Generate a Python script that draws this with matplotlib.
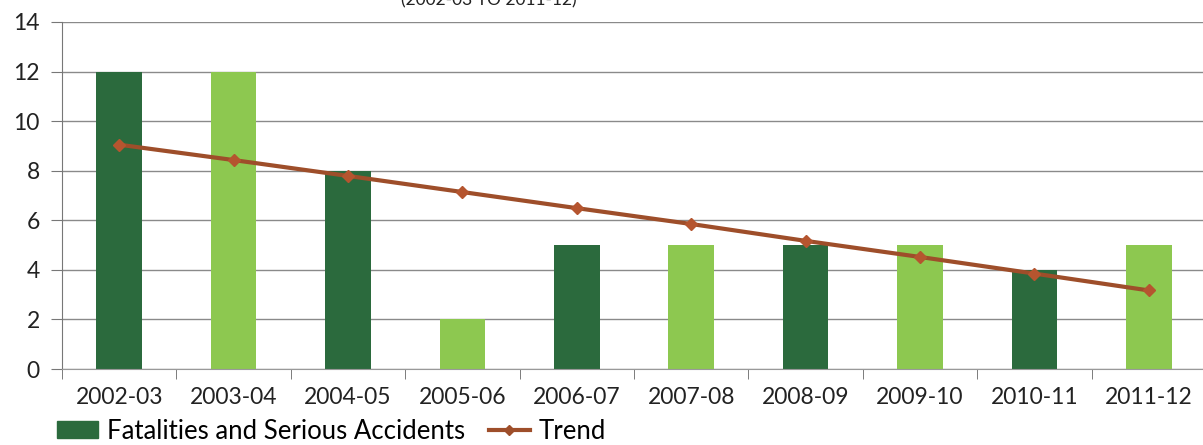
import matplotlib.pyplot as plt
from matplotlib.lines import Line2D
from matplotlib.patches import Patch

# yearly counts and the linear trend drawn over them
years = ['2002-03', '2003-04', '2004-05', '2005-06', '2006-07',
         '2007-08', '2008-09', '2009-10', '2010-11', '2011-12']
accidents = [12, 12, 8, 2, 5, 5, 5, 5, 4, 5]
trend = [9.05, 8.43, 7.79, 7.14, 6.49, 5.85, 5.17, 4.52, 3.85, 3.17]

dark = '#2b6a3d'
light = '#8dc850'
brown = '#9e4e2a'
bar_colors = [dark, light, dark, light, dark, light, dark, light, dark, light]

plt.rcParams['font.family'] = ['Lato', 'DejaVu Sans']

fig = plt.figure(figsize=(12.03, 4.45), dpi=100)
ax = fig.add_axes([62 / 1203, 1 - 369 / 445, 1144 / 1203, 347 / 445])

x = list(range(len(years)))
ax.bar(x, accidents, width=0.4, color=bar_colors, zorder=2)
ax.plot(x, trend, color=brown, lw=3, marker='D', ms=6,
        mfc='#b5552f', mec='#b5552f', zorder=3)

ax.set_xlim(-0.5, 9.5)
ax.set_ylim(0, 14)
ax.set_yticks(range(0, 15, 2))
ax.set_xticks([i + 0.5 for i in range(-1, 10)], minor=True)
ax.set_xticks(x)
ax.set_xticklabels(years)
ax.tick_params(axis='x', which='major', length=0, pad=13, labelsize=16.5, colors='#222222')
ax.tick_params(axis='x', which='minor', length=7, color='#666666', direction='out')
ax.tick_params(axis='y', length=8, color='#777777', labelsize=16.5, colors='#222222', pad=8)
ax.grid(axis='y', color='#8a8a8a', lw=1, zorder=0)
for side in ['top', 'right']:
    ax.spines[side].set_visible(False)
ax.spines['left'].set_color('#777777')
ax.spines['bottom'].set_color('#999999')

# subtitle sits at the very top edge, only its lower half inside the figure
fig.text(489 / 1203, 1 - 8 / 445, '(2002-03 TO 2011-12)', ha='center', va='bottom',
         fontsize=12.5, color='#222222')

handles = [Patch(color=dark, label='Fatalities and Serious Accidents'),
           Line2D([], [], color=brown, lw=3, marker='D', ms=5, label='Trend')]
fig.legend(handles=handles, loc='lower left', bbox_to_anchor=(47 / 1203, -0.02),
           ncol=2, frameon=False, fontsize=18.5, handlelength=1.6, handleheight=0.6,
           columnspacing=0.9, handletextpad=0.35, borderaxespad=0)

fig.savefig('out.png', dpi=100)
